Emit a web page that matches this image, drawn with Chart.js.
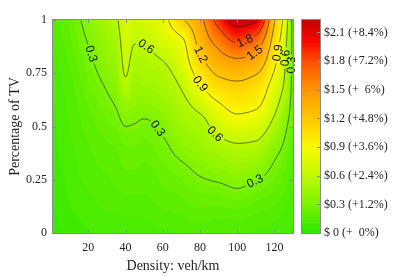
<!DOCTYPE html>
<html>
<head>
<meta charset="utf-8">
<script src="https://cdn.jsdelivr.net/npm/chart.js@4.4.1/dist/chart.umd.min.js"></script>
<style>
  html, body { margin: 0; padding: 0; background: #fff; }
</style>
</head>
<body>
<canvas id="c" width="416" height="276"></canvas>
<script>
// grid: columns = density (veh/km), rows = share of TV
const densities = [0, 10, 20, 30, 35, 40, 45, 50, 60, 70, 80, 90, 100, 110, 120, 125, 130];
const tvShares = [0, 0.1, 0.2, 0.3, 0.4, 0.5, 0.6, 0.7, 0.8, 0.9, 1.0];
// extra cost ($) per column, listed from tv=0 up to tv=1
const costByDensity = [
  [0.05, 0.06, 0.07, 0.08, 0.09, 0.09, 0.10, 0.11, 0.12, 0.13, 0.14],
  [0.08, 0.10, 0.11, 0.12, 0.13, 0.14, 0.15, 0.16, 0.18, 0.20, 0.22],
  [0.10, 0.12, 0.14, 0.16, 0.17, 0.19, 0.21, 0.24, 0.27, 0.31, 0.36],
  [0.11, 0.14, 0.16, 0.18, 0.20, 0.23, 0.27, 0.32, 0.38, 0.44, 0.50],
  [0.11, 0.14, 0.17, 0.19, 0.21, 0.25, 0.31, 0.38, 0.44, 0.50, 0.57],
  [0.11, 0.15, 0.18, 0.21, 0.24, 0.30, 0.42, 0.57, 0.65, 0.70, 0.75],
  [0.11, 0.15, 0.18, 0.21, 0.24, 0.29, 0.38, 0.45, 0.52, 0.61, 0.68],
  [0.12, 0.15, 0.18, 0.20, 0.23, 0.27, 0.37, 0.46, 0.53, 0.62, 0.72],
  [0.13, 0.17, 0.20, 0.23, 0.27, 0.33, 0.42, 0.50, 0.59, 0.73, 0.82],
  [0.14, 0.18, 0.22, 0.27, 0.36, 0.45, 0.53, 0.63, 0.75, 0.85, 1.16],
  [0.15, 0.20, 0.25, 0.33, 0.43, 0.50, 0.68, 0.90, 1.12, 1.30, 1.42],
  [0.14, 0.19, 0.26, 0.38, 0.50, 0.70, 0.87, 1.12, 1.35, 1.60, 1.92],
  [0.14, 0.20, 0.29, 0.42, 0.56, 0.78, 0.98, 1.17, 1.43, 1.83, 2.23],
  [0.13, 0.18, 0.25, 0.38, 0.54, 0.74, 0.94, 1.10, 1.36, 1.68, 2.15],
  [0.12, 0.16, 0.21, 0.27, 0.36, 0.52, 0.67, 0.80, 0.95, 1.08, 1.22],
  [0.11, 0.14, 0.18, 0.22, 0.28, 0.36, 0.48, 0.60, 0.67, 0.75, 0.85],
  [0.10, 0.11, 0.13, 0.15, 0.17, 0.20, 0.22, 0.23, 0.23, 0.22, 0.20],
];
const contourLevels = [0.3, 0.6, 0.9, 1.2, 1.5, 1.8, 2.1];
// where the inline labels sit: [level, density, tv]
const labelSpots = [
  [0.3, 18.2, 0.83], [0.6, 51.4, 0.88], [0.3, 57.3, 0.49],
  [1.2, 79.3, 0.835], [0.9, 80.3, 0.70], [0.6, 87.8, 0.46],
  [0.3, 109, 0.26], [1.8, 104, 0.905], [1.5, 109, 0.85],
  [0.9, 121.6, 0.845], [0.6, 126.5, 0.82], [0.3, 128.5, 0.79],
];
const xTicks = [20, 40, 60, 80, 100, 120];
const yTicks = [0, 0.25, 0.5, 0.75, 1];
const cbTicks = [0, 0.3, 0.6, 0.9, 1.2, 1.5, 1.8, 2.1];
const cbLabels = ['$ 0 (+  0%)', '$0.3 (+1.2%)', '$0.6 (+2.4%)', '$0.9 (+3.6%)',
  '$1.2 (+4.8%)', '$1.5 (+  6%)', '$1.8 (+7.2%)', '$2.1 (+8.4%)'];
const cbMax = 2.23;

// green -> yellow -> red colormap, 64 steps like the figure
const cmapStops = [
  [0.00, 40, 232, 0], [0.30, 125, 242, 0], [0.60, 190, 250, 0], [0.90, 250, 250, 0],
  [1.20, 255, 200, 0], [1.50, 255, 150, 0], [1.80, 255, 80, 0], [2.00, 250, 10, 0],
  [2.23, 195, 0, 0],
];
const NSTEP = 64;
function cmapRaw(v) {
  if (v <= cmapStops[0][0]) return cmapStops[0].slice(1);
  for (let k = 0; k < cmapStops.length - 1; k++) {
    const a = cmapStops[k], b = cmapStops[k + 1];
    if (v <= b[0]) {
      const t = (v - a[0]) / (b[0] - a[0]);
      return [0, 1, 2].map((c) => Math.round(a[c + 1] + t * (b[c + 1] - a[c + 1])));
    }
  }
  return cmapStops[cmapStops.length - 1].slice(1);
}
function cmapStep(v) {
  const q = Math.max(0, Math.min(NSTEP - 1, Math.floor((v / cbMax) * NSTEP)));
  return cmapRaw(((q + 0.5) / NSTEP) * cbMax);
}

// monotone cubic (pchip) so the shading has no overshoot
function pchipSlopes(xs, ys) {
  const n = xs.length, h = [], del = [];
  for (let k = 0; k < n - 1; k++) { h[k] = xs[k + 1] - xs[k]; del[k] = (ys[k + 1] - ys[k]) / h[k]; }
  const m = new Array(n);
  m[0] = del[0]; m[n - 1] = del[n - 2];
  for (let k = 1; k < n - 1; k++) {
    if (del[k - 1] * del[k] <= 0) m[k] = 0;
    else {
      const w1 = 2 * h[k] + h[k - 1], w2 = h[k] + 2 * h[k - 1];
      m[k] = (w1 + w2) / (w1 / del[k - 1] + w2 / del[k]);
    }
  }
  return m;
}
function pchipEval(xs, ys, m, x) {
  let k = 0;
  while (k < xs.length - 2 && x > xs[k + 1]) k++;
  const h = xs[k + 1] - xs[k];
  const t = Math.max(0, Math.min(1, (x - xs[k]) / h));
  const t2 = t * t, t3 = t2 * t;
  return (2 * t3 - 3 * t2 + 1) * ys[k] + (t3 - 2 * t2 + t) * h * m[k]
    + (-2 * t3 + 3 * t2) * ys[k + 1] + (t3 - t2) * h * m[k + 1];
}

const fontSerif = "'Liberation Serif', 'Times New Roman', serif";
const fontSans = "'Liberation Sans', Arial, sans-serif";
const ink = '#262626';
const axisGrey = '#8c8c8c';

function sampleField(chart) {
  const a = chart.chartArea, xs = chart.scales.x, ys = chart.scales.y;
  const W = Math.round(a.right - a.left), H = Math.round(a.bottom - a.top);
  const dAt = [], tAt = [];
  for (let i = 0; i < W; i++) dAt.push(xs.getValueForPixel(a.left + i + 0.5));
  for (let j = 0; j < H; j++) tAt.push(ys.getValueForPixel(a.top + j + 0.5));
  // rows across density first
  const rowVals = tvShares.map((_, r) => {
    const yv = costByDensity.map((col) => col[r]);
    const m = pchipSlopes(densities, yv);
    return dAt.map((d) => pchipEval(densities, yv, m, d));
  });
  const vals = new Float32Array(W * H);
  for (let i = 0; i < W; i++) {
    const yv = rowVals.map((row) => row[i]);
    const m = pchipSlopes(tvShares, yv);
    for (let j = 0; j < H; j++) vals[j * W + i] = pchipEval(tvShares, yv, m, tAt[j]);
  }
  return { W, H, vals, x0: a.left + 0.5, y0: a.top + 0.5 };
}

function marching(f, L) {
  const { W, H, vals, x0, y0 } = f, segs = [];
  const v = (i, j) => vals[j * W + i];
  for (let j = 0; j < H - 1; j++) {
    for (let i = 0; i < W - 1; i++) {
      const tl = v(i, j), tr = v(i + 1, j), br = v(i + 1, j + 1), bl = v(i, j + 1);
      const idx = (tl > L ? 8 : 0) | (tr > L ? 4 : 0) | (br > L ? 2 : 0) | (bl > L ? 1 : 0);
      if (idx === 0 || idx === 15) continue;
      const px = x0 + i, py = y0 + j;
      const T = () => [px + (L - tl) / (tr - tl), py];
      const R = () => [px + 1, py + (L - tr) / (br - tr)];
      const B = () => [px + (L - bl) / (br - bl), py + 1];
      const Lf = () => [px, py + (L - tl) / (bl - tl)];
      const add = (p, q) => segs.push([p[0], p[1], q[0], q[1]]);
      const c = (tl + tr + br + bl) / 4 > L;
      switch (idx) {
        case 1: case 14: add(Lf(), B()); break;
        case 2: case 13: add(B(), R()); break;
        case 3: case 12: add(Lf(), R()); break;
        case 4: case 11: add(T(), R()); break;
        case 6: case 9: add(T(), B()); break;
        case 7: case 8: add(Lf(), T()); break;
        case 5: if (c) { add(Lf(), T()); add(B(), R()); } else { add(T(), R()); add(Lf(), B()); } break;
        case 10: if (c) { add(T(), R()); add(Lf(), B()); } else { add(Lf(), T()); add(B(), R()); } break;
      }
    }
  }
  return segs;
}

const labelFont = '12px ' + fontSans;

const contourPlugin = {
  id: 'contourMap',
  afterDraw(chart) {
    const ctx = chart.ctx, a = chart.chartArea;
    const f = sampleField(chart);
    // shaded field
    const img = ctx.createImageData(f.W, f.H);
    for (let k = 0; k < f.vals.length; k++) {
      const c = cmapStep(f.vals[k]);
      img.data[4 * k] = c[0]; img.data[4 * k + 1] = c[1]; img.data[4 * k + 2] = c[2]; img.data[4 * k + 3] = 255;
    }
    ctx.putImageData(img, Math.round(a.left), Math.round(a.top));

    // contour lines with gaps for labels
    ctx.save();
    ctx.font = labelFont;
    const labels = [];
    const segsByLevel = contourLevels.map((L) => marching(f, L));
    labelSpots.forEach(([L, d, tv]) => {
      const li = contourLevels.indexOf(L);
      const segs = segsByLevel[li];
      const px = chart.scales.x.getPixelForValue(d), py = chart.scales.y.getPixelForValue(tv);
      let best = null, bd = Infinity;
      segs.forEach((s) => {
        const mx = (s[0] + s[2]) / 2, my = (s[1] + s[3]) / 2;
        const dd = (mx - px) ** 2 + (my - py) ** 2;
        if (dd < bd) { bd = dd; best = [mx, my]; }
      });
      if (!best) return;
      const i = Math.round(best[0] - f.x0), j = Math.round(best[1] - f.y0);
      const g = (ii, jj) => f.vals[Math.max(0, Math.min(f.H - 1, jj)) * f.W + Math.max(0, Math.min(f.W - 1, ii))];
      const gx = g(i + 3, j) - g(i - 3, j), gy = g(i, j + 3) - g(i, j - 3);
      let ang = Math.atan2(gx, -gy);
      if (ang > Math.PI / 2) ang -= Math.PI;
      if (ang <= -Math.PI / 2) ang += Math.PI;
      const text = String(L);
      labels.push({ li, cx: best[0], cy: best[1], ang, text, w: ctx.measureText(text).width });
    });
    ctx.beginPath();
    ctx.rect(a.left, a.top, a.right - a.left, a.bottom - a.top);
    ctx.clip();
    ctx.strokeStyle = 'rgba(15,15,15,0.85)';
    ctx.lineWidth = 0.7;
    segsByLevel.forEach((segs, li) => {
      const mine = labels.filter((l) => l.li === li);
      ctx.beginPath();
      segs.forEach((s) => {
        const mx = (s[0] + s[2]) / 2, my = (s[1] + s[3]) / 2;
        for (const l of mine) {
          const dx = mx - l.cx, dy = my - l.cy;
          const u = dx * Math.cos(l.ang) + dy * Math.sin(l.ang);
          const w = -dx * Math.sin(l.ang) + dy * Math.cos(l.ang);
          if (Math.abs(u) < l.w / 2 + 2 && Math.abs(w) < 7) return;
        }
        ctx.moveTo(s[0], s[1]);
        ctx.lineTo(s[2], s[3]);
      });
      ctx.stroke();
    });
    ctx.restore();

    ctx.save();
    ctx.font = labelFont;
    ctx.fillStyle = '#111';
    ctx.textAlign = 'center';
    ctx.textBaseline = 'middle';
    labels.forEach((l) => {
      ctx.save();
      ctx.translate(l.cx, l.cy);
      ctx.rotate(l.ang);
      ctx.fillText(l.text, 0, 0);
      ctx.restore();
    });
    ctx.restore();

    // axes box with inward ticks
    ctx.save();
    ctx.strokeStyle = axisGrey;
    ctx.lineWidth = 1;
    ctx.strokeRect(a.left - 0.5, a.top - 0.5, a.right - a.left + 1, a.bottom - a.top + 1);
    ctx.beginPath();
    xTicks.forEach((v) => {
      const x = Math.round(chart.scales.x.getPixelForValue(v)) + 0.5;
      ctx.moveTo(x, a.bottom); ctx.lineTo(x, a.bottom - 3);
      ctx.moveTo(x, a.top); ctx.lineTo(x, a.top + 3);
    });
    yTicks.forEach((v) => {
      const y = Math.round(chart.scales.y.getPixelForValue(v)) + 0.5;
      ctx.moveTo(a.left, y); ctx.lineTo(a.left + 3, y);
      ctx.moveTo(a.right, y); ctx.lineTo(a.right - 3, y);
    });
    ctx.stroke();

    // colour bar
    const cb = chart.scales.cb;
    const bx = cb.left + 9, bw = 18;
    for (let q = 0; q < NSTEP; q++) {
      const y0 = cb.getPixelForValue((q * cbMax) / NSTEP), y1 = cb.getPixelForValue(((q + 1) * cbMax) / NSTEP);
      const c = cmapRaw(((q + 0.5) / NSTEP) * cbMax);
      ctx.fillStyle = `rgb(${c[0]},${c[1]},${c[2]})`;
      ctx.fillRect(bx, y1, bw, y0 - y1 + 0.6);
    }
    ctx.strokeRect(bx - 0.5, cb.top - 0.5, bw + 1, cb.bottom - cb.top + 1);
    ctx.beginPath();
    cbTicks.forEach((v) => {
      const y = Math.round(cb.getPixelForValue(v)) + 0.5;
      ctx.moveTo(bx + bw, y); ctx.lineTo(bx + bw - 3, y);
    });
    ctx.stroke();
    ctx.restore();
  },
};

const tickFont = { family: fontSerif, size: 12 };
const titleFont = { family: fontSerif, size: 14 };
const noPad = (s) => { s.paddingTop = 0; s.paddingBottom = 0; s.paddingLeft = 0; s.paddingRight = 0; };

new Chart(document.getElementById('c'), {
  type: 'scatter',
  data: { datasets: [] },
  options: {
    responsive: false,
    animation: false,
    devicePixelRatio: 1,
    layout: { padding: { top: 20, left: 0, right: 0, bottom: 0 } },
    plugins: { legend: { display: false }, tooltip: { enabled: false }, title: { display: false } },
    scales: {
      x: {
        type: 'linear', min: 1, max: 130, position: 'bottom',
        afterBuildTicks: (s) => { s.ticks = xTicks.map((v) => ({ value: v })); },
        afterFit: (s) => { s.height = 43; noPad(s); },
        grid: { display: false, drawTicks: false }, border: { display: false },
        ticks: { padding: 8, autoSkip: false, maxRotation: 0, font: tickFont, color: ink, callback: (v) => String(v) },
        title: { display: true, text: 'Density: veh/km', font: titleFont, color: ink, padding: { top: 0, bottom: 1 } },
      },
      y: {
        type: 'linear', min: 0, max: 1, position: 'left',
        afterBuildTicks: (s) => { s.ticks = yTicks.map((v) => ({ value: v })); },
        afterFit: (s) => { s.width = 53; noPad(s); },
        grid: { display: false, drawTicks: false }, border: { display: false },
        ticks: { padding: 6, autoSkip: false, font: tickFont, color: ink, callback: (v) => String(v) },
        title: { display: true, text: 'Percentage of TV', font: titleFont, color: ink, padding: { top: 7, bottom: 0 } },
      },
      cb: {
        type: 'linear', axis: 'y', min: 0, max: cbMax, position: 'right',
        afterBuildTicks: (s) => { s.ticks = cbTicks.map((v) => ({ value: v })); },
        afterFit: (s) => { s.width = 123; noPad(s); },
        grid: { display: false, drawTicks: false }, border: { display: false },
        ticks: { padding: 31, autoSkip: false, font: tickFont, color: ink, callback: (v, i) => cbLabels[i] },
      },
    },
  },
  plugins: [contourPlugin],
});
</script>
</body>
</html>
